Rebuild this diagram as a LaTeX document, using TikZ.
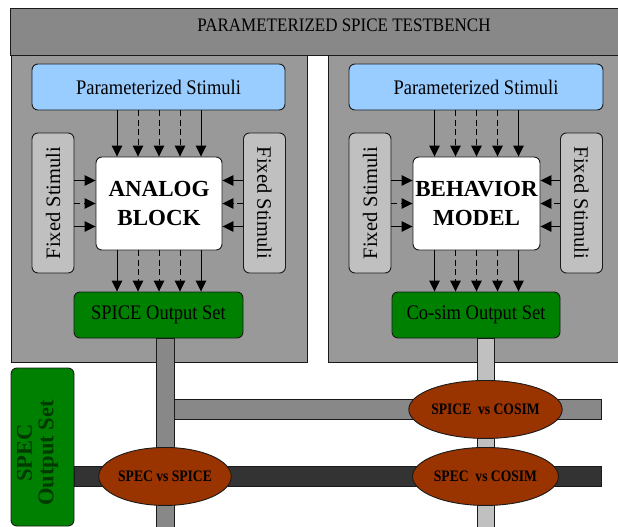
\documentclass[tikz,border=0pt]{standalone}
\usepackage{fontspec}
\usepackage{graphicx}
\setmainfont{Liberation Serif}
\usetikzlibrary{shapes.geometric,arrows.meta,calc}
\definecolor{hdr}{HTML}{888888}
\definecolor{pnl}{HTML}{999999}
\definecolor{psblue}{HTML}{99CCFF}
\definecolor{fixg}{HTML}{C0C0C0}
\definecolor{outg}{HTML}{008000}
\definecolor{ellc}{HTML}{993300}
\definecolor{dbar}{HTML}{333333}
\definecolor{edgec}{HTML}{1A1A1A}
\definecolor{spectext}{HTML}{003A00}
\newcommand{\condtext}[1]{\scalebox{0.85}[1]{#1}}
\newcommand{\talltext}[1]{\scalebox{1}[1.12]{#1}}
\begin{document}
\begin{tikzpicture}[x=1pt,y=-1pt,
  lineb/.style={draw=edgec,line width=0.9pt},
  panel/.style={lineb,inner sep=0pt},
  rbox/.style={lineb,rounded corners=6pt,inner sep=0pt},
  psbox/.style={rbox,fill=psblue,minimum width=253pt,minimum height=46pt,font=\fontsize{18.5}{20}\selectfont},
  fixbox/.style={rbox,fill=fixg,minimum width=42pt,minimum height=140pt},
  fixtext/.style={font=\fontsize{20.5}{22}\selectfont,inner sep=0pt},
  coreblk/.style={rbox,fill=white,minimum width=126pt,minimum height=93pt,align=center,font=\bfseries\fontsize{23}{29}\selectfont},
  outbox/.style={rbox,fill=outg,minimum width=169pt,minimum height=46pt,font=\fontsize{18.5}{20}\selectfont},
  cmpell/.style={ellipse,lineb,fill=ellc,minimum width=124pt,minimum height=58pt,inner sep=0pt,font=\bfseries\fontsize{16}{16}\selectfont},
  arr/.style={-{Triangle[length=11pt,width=10.5pt]},line width=0.9pt,black},
  darr/.style={arr,dash pattern=on 6pt off 3.5pt},
  barbox/.style={lineb}
]
\useasboundingbox (0,0) rectangle (618,527);
\fill[white] (0,0) rectangle (618,527);

% panels and banner
\node[panel,fill=pnl,minimum width=296pt,minimum height=307pt] (lp) at (159,208.5) {};
\node[panel,fill=pnl,minimum width=297pt,minimum height=307pt] (rp) at (476.5,208.5) {};
\node[panel,fill=hdr,minimum width=615pt,minimum height=47pt] (ban) at (317.5,31.5) {};
\node[font=\fontsize{17}{18}\selectfont,inner sep=0pt] (title) at (344,25) {\talltext{PARAMETERIZED SPICE TESTBENCH}};

% left panel
\node[psbox] (ps1) at (158.5,87) {\talltext{Parameterized Stimuli}};
\node[fixbox] (fa1) at (53,203) {};
\node[fixtext,rotate=90] at (fa1) {Fixed Stimuli};
\node[fixbox] (fb1) at (264.5,203) {};
\node[fixtext,rotate=-90] at (fb1) {Fixed Stimuli};
\node[coreblk] (ab) at (159,203.5) {ANALOG\\BLOCK};
\node[outbox] (so1) at (158.5,315) {\talltext{SPICE Output Set}};

% right panel
\node[psbox,minimum width=254pt] (ps2) at (476,87) {\talltext{Parameterized Stimuli}};
\node[fixbox] (fa2) at (370,203) {};
\node[fixtext,rotate=90] at (fa2) {Fixed Stimuli};
\node[fixbox] (fb2) at (581.5,203) {};
\node[fixtext,rotate=-90] at (fb2) {Fixed Stimuli};
\node[coreblk,minimum width=127pt] (bm) at (476.5,203.5) {BEHAVIOR\\MODEL};
\node[outbox,minimum width=168pt] (so2) at (476,315) {\talltext{Co-sim Output Set}};

% arrows
\foreach \blk/\ps/\so/\fa/\fb in {ab/ps1/so1/fa1/fb1, bm/ps2/so2/fa2/fb2}{
  \foreach \dx/\st in {-42/arr,-21/darr,0/darr,21/darr,42/arr}{
    \coordinate (tt) at ($(\blk.north)+(\dx,0)$);
    \draw[\st] (\ps.south -| tt) -- (tt);
    \coordinate (bb) at ($(\blk.south)+(\dx,0)$);
    \draw[\st] (bb) -- (\so.north -| bb);
  }
  \foreach \dy/\st in {-23/arr,0/darr,23/arr}{
    \coordinate (ll) at ($(\blk.west)+(0,\dy)$);
    \draw[\st] (\fa.east |- ll) -- (ll);
    \coordinate (rr) at ($(\blk.east)+(0,\dy)$);
    \draw[\st] (\fb.west |- rr) -- (rr);
  }
}

% stems
\coordinate (ls) at ($(so1.south)+(6.5,0)$);
\coordinate (rs) at ($(so2.south)+(9.5,0)$);
\filldraw[barbox,fill=hdr] ($(ls)+(-9,0)$) rectangle ($(ls)+(9,200)$);
\filldraw[barbox,fill=fixg] ($(rs)+(-8.5,0)$) rectangle ($(rs)+(8.5,200)$);

% SPEC output set
\node[rbox,fill=outg,minimum width=63pt,minimum height=158pt] (spec) at (42.5,447) {};
\node[rotate=90,align=center,text=spectext,font=\bfseries\fontsize{22.5}{21.5}\selectfont,inner sep=0pt] at ($(spec)+(-5,6)$) {SPEC\\Output Set};

% bars
\filldraw[barbox,fill=hdr] ($(ls)+(9,61)$) rectangle (601,419);
\filldraw[barbox,fill=dbar] (spec.east |- 0,466) rectangle (601,486);

% comparison ellipses
\node[cmpell] (c1) at ($(ls)+(0,138)$) {\condtext{SPEC vs SPICE}};
\node[cmpell] (c2) at ($(rs)+(0,71)$) {\condtext{SPICE\ \ vs COSIM}};
\node[cmpell] (c3) at ($(rs)+(0,138)$) {\condtext{SPEC\ \ vs COSIM}};
\end{tikzpicture}
\end{document}
